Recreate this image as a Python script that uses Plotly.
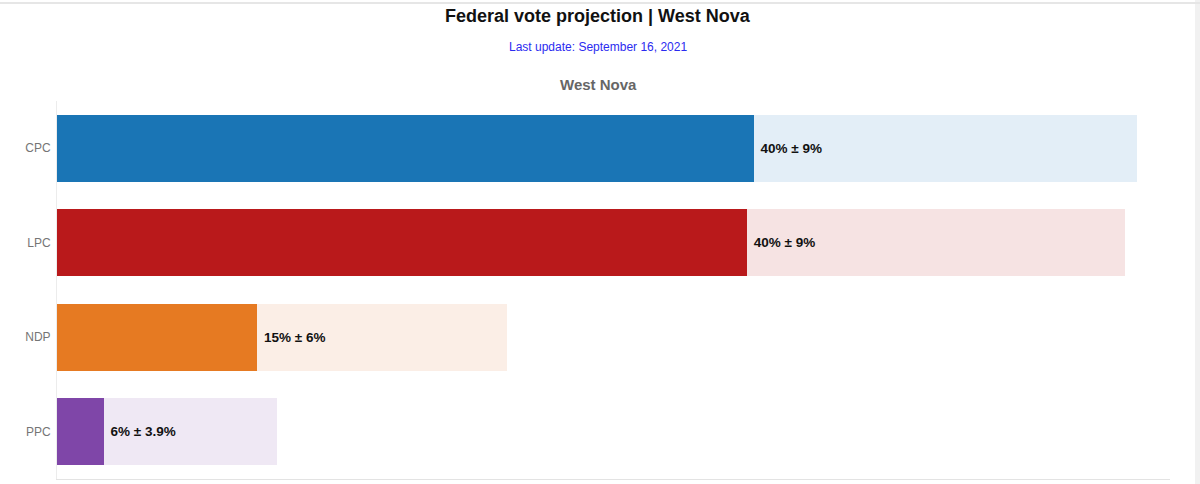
import plotly.graph_objects as go

parties = ["CPC", "LPC", "NDP", "PPC"]
low = [31.3, 31.0, 9.0, 2.1]
high = [48.5, 48.0, 20.2, 9.9]
labels = ["40% ± 9%", "40% ± 9%", "15% ± 6%", "6% ± 3.9%"]
dark_colors = ["#1a75b5", "#b9191b", "#e67a22", "#7f46a8"]
light_colors = ["#e3eef7", "#f6e3e3", "#fbeee6", "#efe8f4"]

span = [h - l for h, l in zip(high, low)]

fig = go.Figure()
fig.add_trace(go.Bar(
    y=parties, x=low, orientation="h",
    marker=dict(color=dark_colors, line=dict(width=0)),
    hoverinfo="skip", showlegend=False,
))
fig.add_trace(go.Bar(
    y=parties, x=span, orientation="h",
    marker=dict(color=light_colors, line=dict(width=0)),
    text=["&nbsp;" + t for t in labels], textposition="inside", insidetextanchor="start",
    textfont=dict(family="Liberation Sans, Arial, sans-serif", size=13.5, color="#111111", weight="bold"),
    constraintext="none",
    hoverinfo="skip", showlegend=False,
))

L, R, T, B = 57, 30, 101, 5
W = 1200
cx = (598 - L) / (W - L - R)

fig.update_layout(
    width=1200, height=484,
    barmode="stack", bargap=0.29,
    margin=dict(l=L, r=R, t=T, b=B),
    paper_bgcolor="white", plot_bgcolor="white",
    font=dict(family="Liberation Sans, Arial, sans-serif"),
    xaxis=dict(range=[0, 50], showticklabels=False, showgrid=False, zeroline=False,
               showline=True, linecolor="#e3e3e3", linewidth=1, ticks=""),
    yaxis=dict(autorange="reversed", showgrid=False, zeroline=False,
               showline=True, linecolor="#ececec", linewidth=1, ticks="",
               ticklabelstandoff=3,
               tickfont=dict(size=12, color="#757575")),
    annotations=[
        dict(text="<b>Federal vote projection | West Nova</b>", xref="paper", yref="paper",
             x=cx, y=1, yshift=85, showarrow=False, xanchor="center", yanchor="middle",
             font=dict(size=18, color="#111111")),
        dict(text="Last update: September 16, 2021", xref="paper", yref="paper",
             x=cx, y=1, yshift=54, showarrow=False, xanchor="center", yanchor="middle",
             font=dict(size=12, color="#2b2bf0")),
        dict(text="<b>West Nova</b>", xref="paper", yref="paper",
             x=cx, y=1, yshift=17, showarrow=False, xanchor="center", yanchor="middle",
             font=dict(size=15, color="#666666")),
    ],
    shapes=[
        dict(type="line", xref="paper", yref="paper",
             x0=-L / (W - L - R), x1=(W - L) / (W - L - R),
             y0=1 + (T - 3) / 378, y1=1 + (T - 3) / 378,
             line=dict(color="#e6e6e6", width=2)),
        dict(type="rect", xref="paper", yref="paper",
             x0=(1195 - L) / (W - L - R), x1=(W - L) / (W - L - R),
             y0=-B / 378, y1=1 + T / 378,
             fillcolor="#f1f1f1", line=dict(width=0), layer="below"),
    ],
)

fig.write_html("out.html")
